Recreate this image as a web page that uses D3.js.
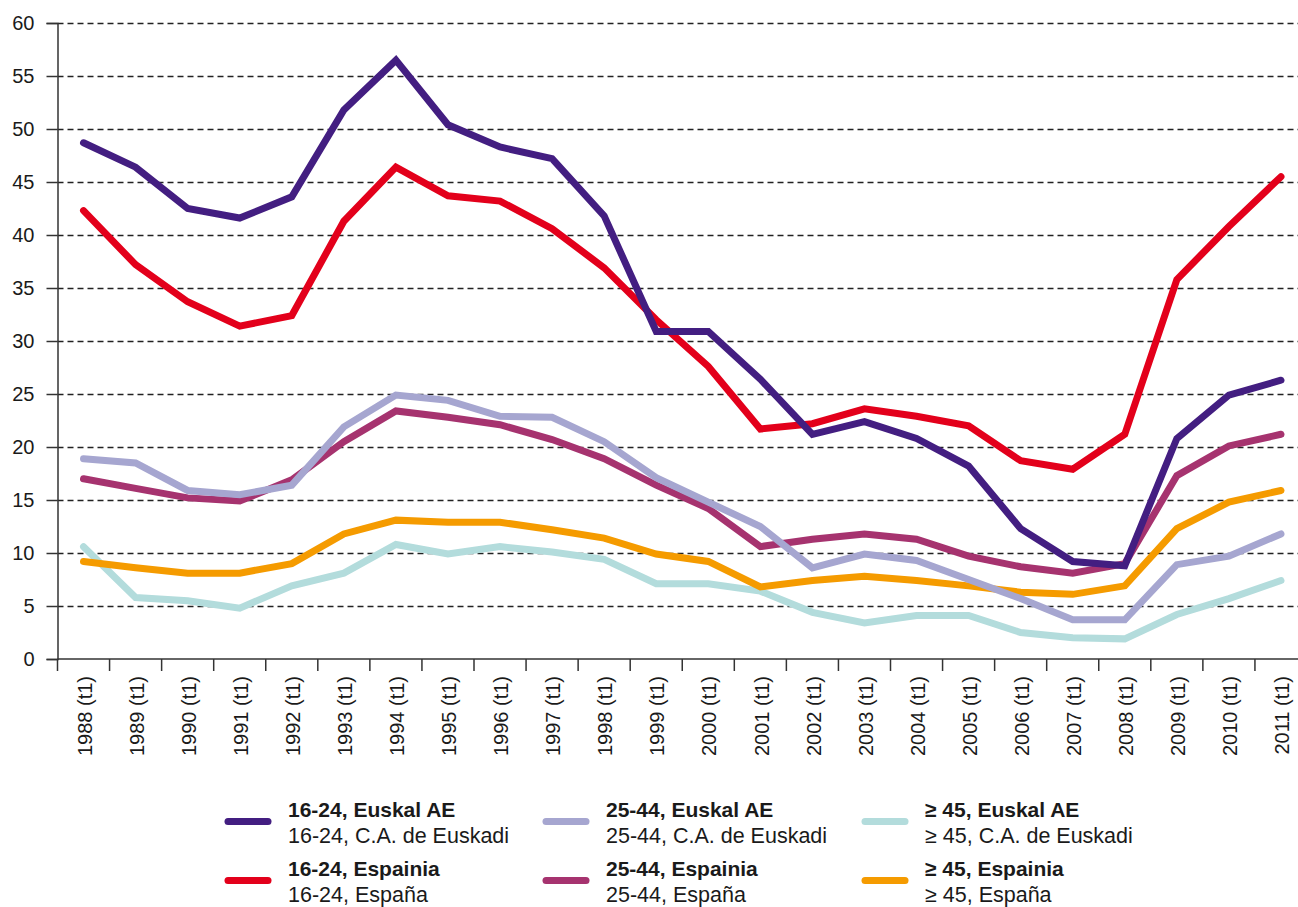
<!DOCTYPE html>
<html>
<head>
<meta charset="utf-8">
<script src="https://cdn.jsdelivr.net/npm/d3@7"></script>
<style>
  body { margin: 0; background: #fff; }
  svg { display: block; font-family: "Liberation Sans", Arial, sans-serif; }
  .axis text { font-size: 20px; fill: #1a1a1a; }
  .legend text { font-size: 21.5px; fill: #1a1a1a; }
  .legend text.head { font-size: 21px; font-weight: bold; }
</style>
</head>
<body>
<svg id="chart"></svg>
<script>
const years = ['1988', '1989', '1990', '1991', '1992', '1993', '1994', '1995', '1996', '1997', '1998', '1999',
  '2000', '2001', '2002', '2003', '2004', '2005', '2006', '2007', '2008', '2009', '2010', '2011'];
const yTicks = [0, 5, 10, 15, 20, 25, 30, 35, 40, 45, 50, 55, 60];

const young_eus = [48.7, 46.4, 42.5, 41.6, 43.6, 51.8, 56.5, 50.4, 48.3, 47.2, 41.8, 30.9,
  30.9, 26.4, 21.2, 22.4, 20.8, 18.2, 12.3, 9.2, 8.8, 20.8, 24.9, 26.3];
const young_esp = [42.3, 37.2, 33.7, 31.4, 32.4, 41.3, 46.4, 43.7, 43.2, 40.6, 36.9, 32.0,
  27.6, 21.7, 22.2, 23.6, 22.9, 22.0, 18.7, 17.9, 21.2, 35.8, 40.8, 45.5];
const mid_eus = [18.9, 18.5, 15.9, 15.5, 16.4, 21.9, 24.9, 24.4, 22.9, 22.8, 20.5, 17.1,
  14.8, 12.5, 8.6, 9.9, 9.3, 7.5, 5.7, 3.7, 3.7, 8.9, 9.7, 11.8];
const mid_esp = [17.0, 16.1, 15.2, 14.9, 16.9, 20.5, 23.4, 22.8, 22.1, 20.7, 18.9, 16.4,
  14.2, 10.6, 11.3, 11.8, 11.3, 9.7, 8.7, 8.1, 9.0, 17.3, 20.1, 21.2];
const old_eus = [10.6, 5.8, 5.5, 4.8, 6.9, 8.1, 10.8, 9.9, 10.6, 10.1, 9.4, 7.1,
  7.1, 6.4, 4.4, 3.4, 4.1, 4.1, 2.5, 2.0, 1.9, 4.2, 5.7, 7.4];
const old_esp = [9.2, 8.6, 8.1, 8.1, 9.0, 11.8, 13.1, 12.9, 12.9, 12.2, 11.4, 9.9,
  9.2, 6.8, 7.4, 7.8, 7.4, 6.9, 6.3, 6.1, 6.9, 12.3, 14.8, 15.9];

// legend order (column by column) and draw order differ a bit
const series = [
  {key: 'young_eus', values: young_eus, color: '#431e81', bold: '16-24, Euskal AE', sub: '16-24, C.A. de Euskadi', col: 0, row: 0, z: 6},
  {key: 'young_esp', values: young_esp, color: '#e3001b', bold: '16-24, Espainia', sub: '16-24, España', col: 0, row: 1, z: 1},
  {key: 'mid_eus', values: mid_eus, color: '#a6a6d0', bold: '25-44, Euskal AE', sub: '25-44, C.A. de Euskadi', col: 1, row: 0, z: 5},
  {key: 'mid_esp', values: mid_esp, color: '#a6336f', bold: '25-44, Espainia', sub: '25-44, España', col: 1, row: 1, z: 2},
  {key: 'old_eus', values: old_eus, color: '#b3dcdc', bold: '≥ 45, Euskal AE', sub: '≥ 45, C.A. de Euskadi', col: 2, row: 0, z: 3},
  {key: 'old_esp', values: old_esp, color: '#f59b00', bold: '≥ 45, Espainia', sub: '≥ 45, España', col: 2, row: 1, z: 4}
];

const W = 1298, H = 907;
const svg = d3.select('#chart').attr('width', W).attr('height', H);

const plot = {left: 57.5, right: 1307, top: 23, bottom: 659};

const x = d3.scaleBand().domain(years).range([plot.left, plot.right]).padding(0);
const y = d3.scaleLinear().domain([0, 60]).range([plot.bottom, plot.top]);

// grid
svg.append('g')
  .selectAll('line')
  .data(yTicks.filter(d => d > 0))
  .enter().append('line')
    .attr('x1', plot.left).attr('x2', W)
    .attr('y1', d => Math.round(y(d)) + 0.5).attr('y2', d => Math.round(y(d)) + 0.5)
    .attr('stroke', '#222')
    .attr('stroke-width', 1.3)
    .attr('stroke-dasharray', '6,4');

// y axis
const axisY = svg.append('g')
  .attr('class', 'axis')
  .attr('transform', `translate(${plot.left}, 0)`)
  .call(d3.axisLeft(y).tickValues(yTicks).tickSize(11).tickPadding(12));
axisY.select('.domain').attr('stroke', '#333').attr('stroke-width', 1.5);
axisY.selectAll('.tick line').attr('stroke', '#333').attr('stroke-width', 1.5);

// x axis: labels centred in bands, ticks at band boundaries
const axisX = svg.append('g')
  .attr('class', 'axis')
  .attr('transform', `translate(0, ${plot.bottom})`)
  .call(d3.axisBottom(x).tickSize(0).tickFormat(d => `${d} (t1)`));
axisX.select('.domain').remove();
axisX.selectAll('.tick text')
  .attr('transform', 'rotate(-90)')
  .attr('text-anchor', 'end')
  .attr('x', -17)
  .attr('y', 1)
  .attr('dy', '0.36em');

svg.append('line')
  .attr('x1', plot.left).attr('x2', W)
  .attr('y1', plot.bottom).attr('y2', plot.bottom)
  .attr('stroke', '#333').attr('stroke-width', 1.5);

svg.append('g')
  .selectAll('line')
  .data(years)
  .enter().append('line')
    .attr('x1', d => x(d)).attr('x2', d => x(d))
    .attr('y1', plot.bottom).attr('y2', plot.bottom + 12)
    .attr('stroke', '#333').attr('stroke-width', 1.5);

// lines
const line = d3.line()
  .x((d, i) => x(years[i]) + x.bandwidth() / 2)
  .y(d => y(d));

svg.append('g')
  .selectAll('path')
  .data(series.slice().sort((a, b) => a.z - b.z))
  .enter().append('path')
    .attr('d', d => line(d.values))
    .attr('fill', 'none')
    .attr('stroke', d => d.color)
    .attr('stroke-width', 7)
    .attr('stroke-linejoin', 'miter')
    .attr('stroke-miterlimit', 3)
    .attr('stroke-linecap', 'round');

// legend
const colX = [225, 543, 862];
const rowY = [817, 876];

const legend = svg.append('g').attr('class', 'legend')
  .selectAll('g')
  .data(series)
  .enter().append('g')
    .attr('transform', d => `translate(${colX[d.col]}, ${rowY[d.row]})`);

legend.append('line')
  .attr('x1', 3).attr('x2', 43)
  .attr('y1', 4.5).attr('y2', 4.5)
  .attr('stroke', d => d.color)
  .attr('stroke-width', 7)
  .attr('stroke-linecap', 'round');

legend.append('text')
  .attr('class', 'head')
  .attr('x', 63)
  .attr('y', 0)
  .text(d => d.bold);

legend.append('text')
  .attr('x', 63)
  .attr('y', 26)
  .text(d => d.sub);
</script>
</body>
</html>
